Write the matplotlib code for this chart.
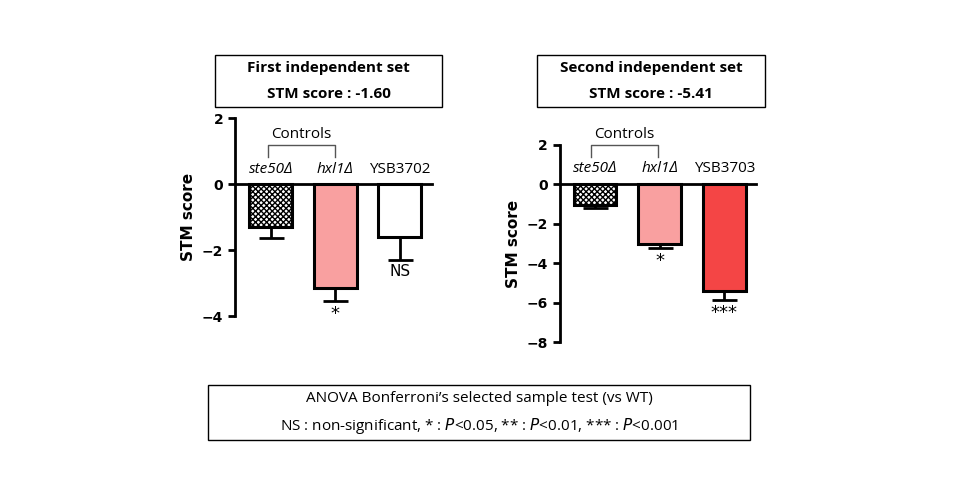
import matplotlib.pyplot as plt
from matplotlib.patches import Rectangle

plt.rcParams['font.family'] = ['DejaVu Sans']
plt.rcParams['hatch.linewidth'] = 1.0

labels1 = ['ste50Δ', 'hxl1Δ', 'YSB3702']
values1 = [-1.3, -3.15, -1.6]
errs1 = [0.33, 0.4, 0.7]
marks1 = ['', '*', 'NS']

labels2 = ['ste50Δ', 'hxl1Δ', 'YSB3703']
values2 = [-1.05, -3.0, -5.4]
errs2 = [0.17, 0.25, 0.45]
marks2 = ['', '*', '***']

colors1 = ['white', '#F9A0A0', 'white']
colors2 = ['white', '#F9A0A0', '#F44545']
hatches = ['xxxxxx', '', '']

fig = plt.figure(figsize=(9.6, 5), dpi=100)


def px(x, y):
    return x / 960, 1 - y / 500


def panel(rect, labels, values, errs, marks, colors, ylim, ticks, label_y, mark_off):
    ax = fig.add_axes(rect)
    xs = range(len(values))
    for i in xs:
        ax.bar(i, values[i], width=0.66, color=colors[i], edgecolor='black',
               linewidth=2.2, hatch=hatches[i], zorder=2)
        ax.errorbar(i, values[i], yerr=[[errs[i]], [0]], fmt='none', ecolor='black',
                    elinewidth=2, capsize=9, capthick=2, zorder=3)
        if marks[i]:
            ax.text(i, values[i] - errs[i] - mark_off, marks[i], ha='center', va='top',
                    fontsize=13 if marks[i] != 'NS' else 11)
        style = 'italic' if i < 2 else 'normal'
        ax.text(i, label_y, labels[i], ha='center', va='center', fontsize=11,
                style=style, family=['Open Sans', 'DejaVu Sans'])
    ax.set_xlim(-0.55, 2.5)
    ax.set_ylim(*ylim)
    ax.set_yticks(ticks)
    ax.set_xticks([])
    ax.spines['top'].set_visible(False)
    ax.spines['right'].set_visible(False)
    ax.spines['bottom'].set_position(('data', 0))
    ax.spines['left'].set_linewidth(2)
    ax.spines['bottom'].set_linewidth(2)
    ax.tick_params(axis='y', width=2, length=5, labelsize=10)
    for t in ax.get_yticklabels():
        t.set_fontweight('bold')
    ax.set_ylabel('STM score', fontsize=11, fontweight='bold')
    ax.patch.set_visible(False)
    return ax


panel([0.245, 0.368, 0.205, 0.396], labels1, values1, errs1, marks1, colors1,
      (-4, 2), [-4, -2, 0, 2], 0.45, 0.12)
panel([0.583, 0.316, 0.205, 0.394], labels2, values2, errs2, marks2, colors2,
      (-8, 2), [-8, -6, -4, -2, 0, 2], 0.8, 0.2)


def box(x0, y0, x1, y1, lines, bold):
    fx0, fy1 = px(x0, y1)
    fx1, fy0 = px(x1, y0)
    fig.add_artist(Rectangle((fx0, fy1), fx1 - fx0, fy0 - fy1, transform=fig.transFigure,
                             fill=False, edgecolor='black', linewidth=1))
    cx = (fx0 + fx1) / 2
    n = len(lines)
    for k, s in enumerate(lines):
        cy = fy0 - (fy0 - fy1) * (k + 0.5) / n
        fig.text(cx, cy, s, ha='center', va='center', fontsize=11,
                 fontweight='bold' if bold else 'normal',
                 family=['Open Sans', 'DejaVu Sans'])


box(215, 55, 442, 107, ['First independent set', 'STM score : -1.60'], True)
box(537, 55, 765, 107, ['Second independent set', 'STM score : -5.41'], True)
box(208, 385, 750, 440, ['ANOVA Bonferroni’s selected sample test (vs WT)',
                         'NS : non-significant, * : $\\it{P}$<0.05, ** : $\\it{P}$<0.01, *** : $\\it{P}$<0.001'],
    False)


def bracket(x0, x1, ytop, ybot, ytext):
    a, b = px(x0, ybot), px(x0, ytop)
    c, d = px(x1, ytop), px(x1, ybot)
    fig.add_artist(plt.Line2D([a[0], b[0], c[0], d[0]], [a[1], b[1], c[1], d[1]],
                              transform=fig.transFigure, color='#555555', linewidth=1))
    tx, ty = px((x0 + x1) / 2, ytext)
    fig.text(tx, ty, 'Controls', ha='center', va='center', fontsize=11,
             family=['Open Sans', 'DejaVu Sans'])


bracket(268, 335, 145, 157, 135)
bracket(591, 658, 145, 157, 135)

fig.savefig('out.png', dpi=100)
